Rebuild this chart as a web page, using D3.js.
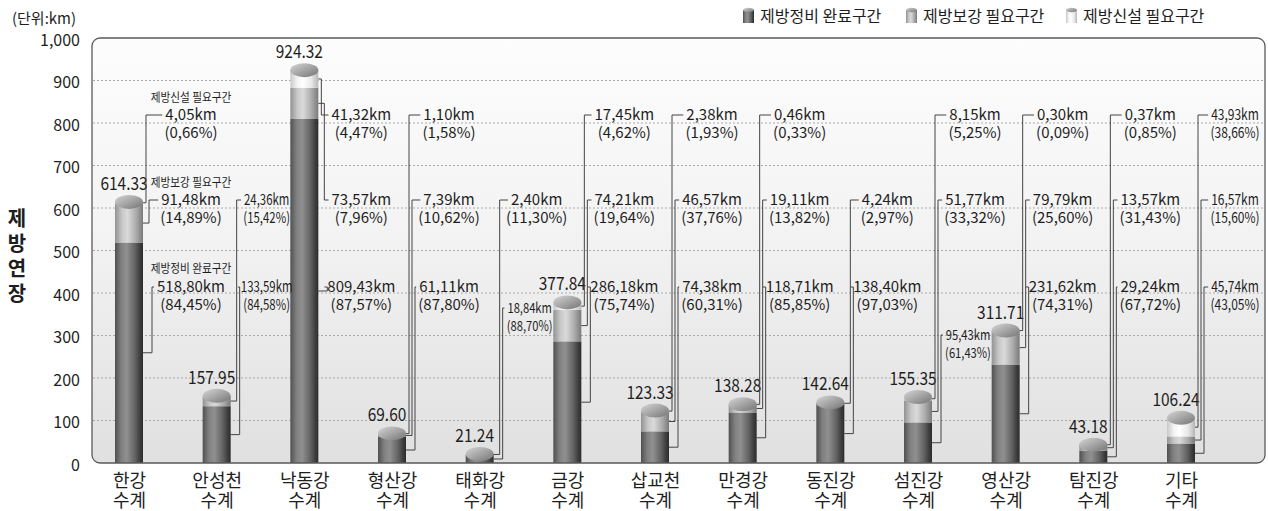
<!DOCTYPE html>
<html>

<head>
  <meta charset="utf-8">
  <style>
    body { margin: 0; background: #fff; }
    text { font-family: "Noto Sans CJK KR", "Noto Sans", sans-serif; fill: #1e1e1e; }
  </style>
</head>

<body>
  <script src="https://d3js.org/d3.v7.min.js"></script>
  <script>
    // river systems (x categories)
    var rivers = ["한강", "안성천", "낙동강", "형산강", "태화강", "금강", "삽교천", "만경강", "동진강", "섬진강", "영산강", "탐진강", "기타"];
    // km per section
    var done = [518.80, 133.59, 809.43, 61.11, 18.84, 286.18, 74.38, 118.71, 138.40, 95.43, 231.62, 29.24, 45.74];
    var reinforce = [91.48, 24.36, 73.57, 7.39, 2.40, 74.21, 46.57, 19.11, 4.24, 51.77, 79.79, 13.57, 16.57];
    var newBuild = [4.05, 0, 41.32, 1.10, 0, 17.45, 2.38, 0.46, 0, 8.15, 0.30, 0.37, 43.93];
    var totals = [614.33, 157.95, 924.32, 69.60, 21.24, 377.84, 123.33, 138.28, 142.64, 155.35, 311.71, 43.18, 106.24];
    // shares as printed
    var donePct = [84.45, 84.58, 87.57, 87.80, 88.70, 75.74, 60.31, 85.85, 97.03, 61.43, 74.31, 67.72, 43.05];
    var reinforcePct = [14.89, 15.42, 7.96, 10.62, 11.30, 19.64, 37.76, 13.82, 2.97, 33.32, 25.60, 31.43, 15.60];
    var newPct = [0.66, null, 4.47, 1.58, null, 4.62, 1.93, 0.33, null, 5.25, 0.09, 0.85, 38.66];
    var seriesKeys = ["done", "reinforce", "newBuild"];
    var seriesNames = ["제방정비 완료구간", "제방보강 필요구간", "제방신설 필요구간"];
    var yTicks = [0, 100, 200, 300, 400, 500, 600, 700, 800, 900, 1000];

    var W = 1268, H = 511;
    var svg = d3.select("body").append("svg").attr("width", W).attr("height", H);

    var x = d3.scalePoint().domain(rivers).range([129, 1181]);
    var y = d3.scaleLinear().domain([0, 1000]).range([463, 38]);
    var barW = 28;

    var table = rivers.map(function(r, i) {
      return { river: r, done: done[i], reinforce: reinforce[i], newBuild: newBuild[i], total: totals[i],
        pct: { done: donePct[i], reinforce: reinforcePct[i], newBuild: newPct[i] } };
    });
    var stacked = d3.stack().keys(seriesKeys)(table);

    // gradients
    var defs = svg.append("defs");
    function hGrad(id, stops) {
      var g = defs.append("linearGradient").attr("id", id).attr("x1", 0).attr("x2", 1).attr("y1", 0).attr("y2", 0);
      stops.forEach(function(s) { g.append("stop").attr("offset", s[0]).attr("stop-color", s[1]); });
    }
    hGrad("g-done", [[0, "#505050"], [0.22, "#808080"], [0.42, "#909090"], [0.72, "#626262"], [0.9, "#3c3c3c"], [1, "#2c2c2c"]]);
    hGrad("g-reinforce", [[0, "#929292"], [0.25, "#c8c8c8"], [0.45, "#dadada"], [0.75, "#acacac"], [1, "#7a7a7a"]]);
    hGrad("g-newBuild", [[0, "#c8c8c8"], [0.25, "#f4f4f4"], [0.45, "#ffffff"], [0.75, "#e8e8e8"], [1, "#b6b6b6"]]);
    var tg = defs.append("linearGradient").attr("id", "g-top").attr("x1", 0).attr("x2", 1).attr("y1", 0).attr("y2", 1);
    tg.append("stop").attr("offset", 0).attr("stop-color", "#d6d6d6");
    tg.append("stop").attr("offset", 1).attr("stop-color", "#747474");
    var bg = defs.append("linearGradient").attr("id", "g-bg").attr("x1", 0).attr("x2", 0).attr("y1", 0).attr("y2", 1);
    bg.append("stop").attr("offset", 0).attr("stop-color", "#fdfdfd");
    bg.append("stop").attr("offset", 0.45).attr("stop-color", "#f3f3f3");
    bg.append("stop").attr("offset", 1).attr("stop-color", "#e0e0e0");

    // plot frame
    svg.append("rect").attr("x", 92).attr("y", y(1000)).attr("width", 1173).attr("height", y(0) - y(1000))
      .attr("rx", 8).attr("fill", "url(#g-bg)");

    svg.append("g").selectAll("line").data(yTicks.filter(function(d) { return d > 0 && d < 1000; }))
      .join("line")
      .attr("x1", 93).attr("x2", 1264)
      .attr("y1", function(d) { return y(d); }).attr("y2", function(d) { return y(d); })
      .attr("stroke", "#aaa").attr("stroke-dasharray", "2,2");

    // y axis
    var yAxis = svg.append("g").attr("transform", "translate(80,2)")
      .call(d3.axisLeft(y).tickValues(yTicks).tickFormat(d3.format(",")).tickSize(0).tickPadding(0));
    yAxis.select(".domain").remove();
    yAxis.selectAll("text").attr("font-size", 16).attr("fill", "#1e1e1e")
      .style("font-family", '"Noto Sans CJK KR", "Noto Sans", sans-serif');

    svg.append("text").attr("x", 12).attr("y", 24).attr("font-size", 15).text("(단위:km)");

    svg.append("g").selectAll("text").data("제방연장".split("")).join("text")
      .attr("x", 17).attr("y", function(d, i) { return 226 + i * 25; })
      .attr("font-size", 20).attr("font-weight", "bold").attr("text-anchor", "middle")
      .text(function(d) { return d; });

    // x axis: two-line labels under each tick
    var xAxis = svg.append("g").attr("transform", "translate(0,470)")
      .call(d3.axisBottom(x).tickSize(0).tickFormat(""));
    xAxis.select(".domain").remove();
    xAxis.selectAll(".tick").each(function(d) {
      var t = d3.select(this);
      t.selectAll("text").remove();
      t.append("text").attr("y", 17).attr("text-anchor", "middle").attr("font-size", 18).attr("fill", "#1e1e1e").text(d);
      t.append("text").attr("y", 37).attr("text-anchor", "middle").attr("font-size", 18).attr("fill", "#1e1e1e").text("수계");
    });

    // cylinders
    var bars = svg.append("g");
    stacked.forEach(function(layer) {
      bars.append("g").selectAll("rect").data(layer.filter(function(d) { return d[1] > d[0]; }))
        .join("rect")
        .attr("x", function(d) { return x(d.data.river) - barW / 2; })
        .attr("width", barW)
        .attr("y", function(d) { return y(d[1]); })
        .attr("height", function(d) { return y(d[0]) - y(d[1]); })
        .attr("fill", "url(#g-" + layer.key + ")");
    });
    bars.append("g").selectAll("ellipse").data(table).join("ellipse")
      .attr("cx", function(d) { return x(d.river); })
      .attr("cy", function(d) { return y(d.total); })
      .attr("rx", barW / 2).attr("ry", 7)
      .attr("fill", "url(#g-top)");

    // frame outline on top
    svg.append("rect").attr("x", 92).attr("y", y(1000)).attr("width", 1173).attr("height", y(0) - y(1000))
      .attr("rx", 8).attr("fill", "none").attr("stroke", "#5a5a5a").attr("stroke-width", 1.3);

    // text squeezed horizontally with a transform; returns its drawn width
    function addText(g, str, tx, ty, size, anchor, squeeze) {
      var sq = squeeze || 1;
      var t = g.append("text").attr("x", 0).attr("y", 0).attr("font-size", size)
        .attr("text-anchor", anchor)
        .attr("transform", "translate(" + tx + "," + ty + ")" + (sq !== 1 ? " scale(" + sq + ",1)" : ""))
        .text(str);
      return t.node().getComputedTextLength() * sq;
    }

    // totals above bars
    var totG = svg.append("g");
    table.forEach(function(d) {
      addText(totG, d3.format(".2f")(d.total), x(d.river) - 5, y(d.total) - 12, 18, "middle", 0.86);
    });

    // annotations with leader lines
    var comma = function(v) { return d3.format(".2f")(v).replace(".", ","); };
    var rowBase = { newBuild: 120, reinforce: 205, done: 292 };
    var lineOff = { newBuild: 3, reinforce: 6, done: 9 };
    var colOff = { "한강": 62, "안성천": 50, "기타": 54 };
    var squeezeCol = { "안성천": 0.76, "기타": 0.8 };
    var moved = { "태화강": { row: "done", base: 313, off: 50 }, "섬진강": { row: "done", base: 340, off: 50 } };

    var annG = svg.append("g");
    stacked.forEach(function(layer) {
      layer.forEach(function(s) {
        var d = s.data, key = layer.key;
        if (!(s[1] > s[0])) return;
        var cx = x(d.river);
        var center = cx + (colOff[d.river] || 57);
        var base = rowBase[key];
        var size = 15, sq = squeezeCol[d.river] || 1;
        if (moved[d.river] && moved[d.river].row === key) {
          base = moved[d.river].base; center = cx + moved[d.river].off; size = 14; sq = 0.8;
        }
        var w1 = addText(annG, comma(d[key]) + "km", center, base, size, "middle", sq);
        addText(annG, "(" + comma(d.pct[key]) + "%)", center, base + 18, size, "middle", sq);
        var left = center - w1 / 2 - 3;
        var vx = cx + barW / 2 + lineOff[key];
        var ty = base - 5;
        var p = d3.path();
        p.moveTo(cx + barW / 2, y((s[0] + s[1]) / 2));
        p.lineTo(vx, y((s[0] + s[1]) / 2));
        p.lineTo(vx, ty);
        p.lineTo(left, ty);
        annG.append("path").attr("d", p.toString()).attr("fill", "none").attr("stroke", "#444").attr("stroke-width", 1);
      });
    });

    // section headings beside the first column
    var hx = x(rivers[0]) + 62;
    addText(annG, "제방신설 필요구간", hx, 102, 12.5, "middle", 0.85);
    addText(annG, "제방보강 필요구간", hx, 187, 12.5, "middle", 0.85);
    addText(annG, "제방정비 완료구간", hx, 273, 12.5, "middle", 0.85);

    // legend
    var legX = [743, 906, 1066];
    var leg = svg.append("g");
    seriesKeys.forEach(function(k, i) {
      var g = leg.append("g").attr("transform", "translate(" + legX[i] + ",8)");
      g.append("rect").attr("x", 0).attr("y", 2).attr("width", 11).attr("height", 13).attr("fill", "url(#g-" + k + ")");
      g.append("ellipse").attr("cx", 5.5).attr("cy", 2).attr("rx", 5.5).attr("ry", 2.2).attr("fill", "url(#g-top)");
      g.append("text").attr("x", 17).attr("y", 14).attr("font-size", 16).text(seriesNames[i]);
    });
  </script>
</body>

</html>
